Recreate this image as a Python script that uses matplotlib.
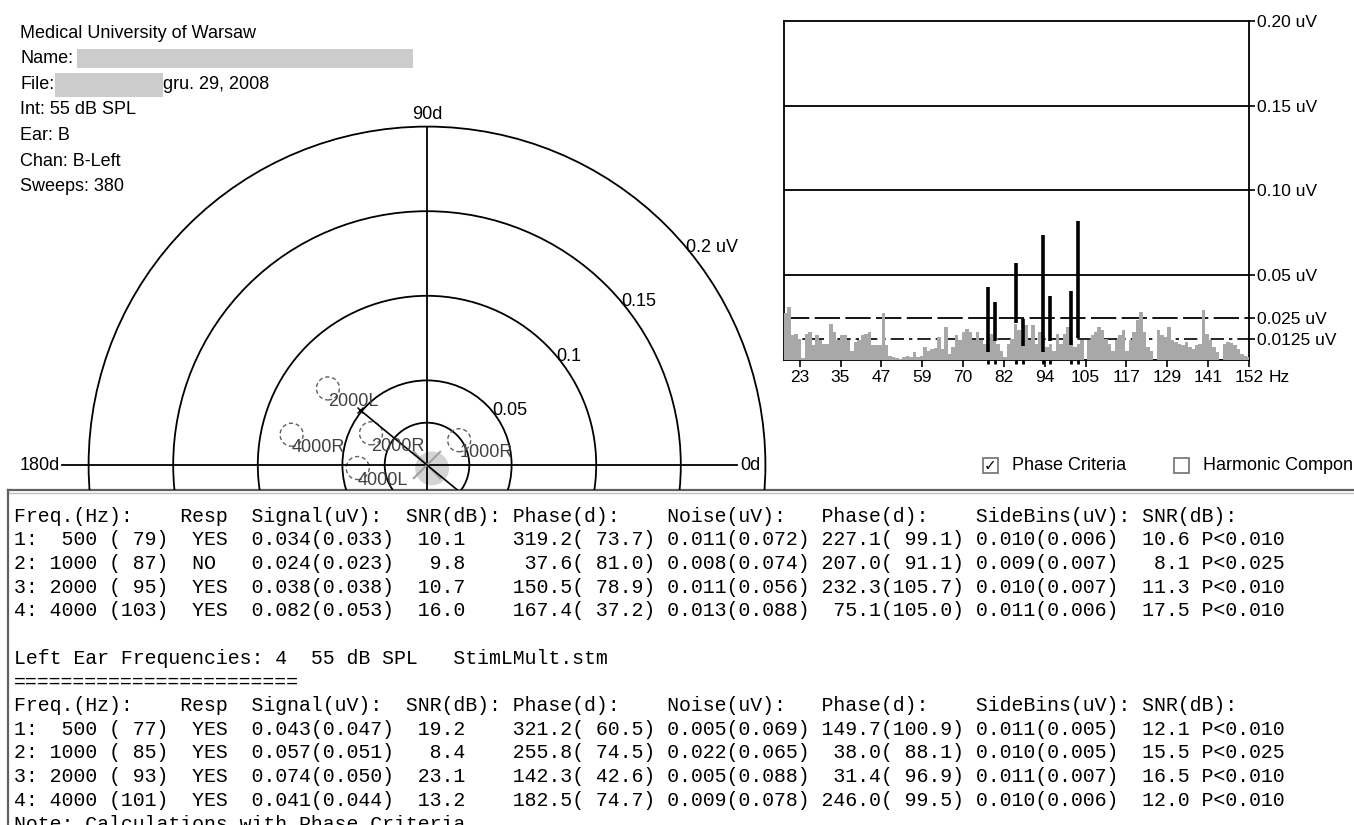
import matplotlib
matplotlib.use("Agg")
import matplotlib.pyplot as plt
from matplotlib.patches import Circle, Rectangle
import numpy as np

W, H = 1354, 825

# ---- header block ----
info_lines = ["Medical University of Warsaw", "Name:", "File:", "Int: 55 dB SPL",
              "Ear: B", "Chan: B-Left", "Sweeps: 380"]
file_date = "gru. 29, 2008"

# ---- polar plot ----
ring_values = [0.05, 0.1, 0.15, 0.2]
ring_labels = ["0.05", "0.1", "0.15", "0.2 uV"]
inner_ring = 0.025
axis_labels = ["0d", "90d", "180d"]
diam_phase = 140.6
diam_amp = 0.051

# ---- response table data ----
carriers = [500, 1000, 2000, 4000]

r_mod = [79, 87, 95, 103]
r_resp = ["YES", "NO", "YES", "YES"]
r_sig = [0.034, 0.024, 0.038, 0.082]
r_sig_b = [0.033, 0.023, 0.038, 0.053]
r_snr = [10.1, 9.8, 10.7, 16.0]
r_ph = [319.2, 37.6, 150.5, 167.4]
r_ph_b = [73.7, 81.0, 78.9, 37.2]
r_noise = [0.011, 0.008, 0.011, 0.013]
r_noise_b = [0.072, 0.074, 0.056, 0.088]
r_nph = [227.1, 207.0, 232.3, 75.1]
r_nph_b = [99.1, 91.1, 105.7, 105.0]
r_side = [0.010, 0.009, 0.010, 0.011]
r_side_b = [0.006, 0.007, 0.007, 0.006]
r_snr2 = [10.6, 8.1, 11.3, 17.5]
r_p = ["P<0.010", "P<0.025", "P<0.010", "P<0.010"]

l_mod = [77, 85, 93, 101]
l_resp = ["YES", "YES", "YES", "YES"]
l_sig = [0.043, 0.057, 0.074, 0.041]
l_sig_b = [0.047, 0.051, 0.050, 0.044]
l_snr = [19.2, 8.4, 23.1, 13.2]
l_ph = [321.2, 255.8, 142.3, 182.5]
l_ph_b = [60.5, 74.5, 42.6, 74.7]
l_noise = [0.005, 0.022, 0.005, 0.009]
l_noise_b = [0.069, 0.065, 0.088, 0.078]
l_nph = [149.7, 38.0, 31.4, 246.0]
l_nph_b = [100.9, 88.1, 96.9, 99.5]
l_side = [0.011, 0.010, 0.011, 0.010]
l_side_b = [0.005, 0.005, 0.007, 0.006]
l_snr2 = [12.1, 15.5, 16.5, 12.0]
l_p = ["P<0.010", "P<0.025", "P<0.010", "P<0.010"]

table_header = "Freq.(Hz):    Resp  Signal(uV):  SNR(dB): Phase(d):    Noise(uV):   Phase(d):    SideBins(uV): SNR(dB):"
left_title = "Left Ear Frequencies: 4  55 dB SPL   StimLMult.stm"
note_line = "Note: Calculations with Phase Criteria"

# ---- spectrum ----
spec_freqs = list(range(19, 153))
spec_amp = [0.0275, 0.0315, 0.0146, 0.0155, 0.0126, 0.001, 0.0155, 0.0165, 0.0086, 0.0146,
            0.0116, 0.0096, 0.0096, 0.0215, 0.0165, 0.0116, 0.0146, 0.0146, 0.0116, 0.0056,
            0.0106, 0.0116, 0.0146, 0.0155, 0.0165, 0.0086, 0.0086, 0.0086, 0.0275, 0.0086,
            0.0026, 0.0016, 0.001, 0.0006, 0.0016, 0.0026, 0.0016, 0.0046, 0.0016, 0.0026,
            0.0076, 0.0056, 0.0066, 0.0072, 0.0136, 0.0066, 0.0195, 0.0036, 0.0076, 0.0146,
            0.0116, 0.0165, 0.0185, 0.0165, 0.0116, 0.0165, 0.0116, 0.0096, 0.0096, 0.0155,
            0.0116, 0.0096, 0.0056, 0.0016, 0.0096, 0.0126, 0.0215, 0.0175, 0.0126, 0.0205,
            0.0116, 0.0205, 0.0096, 0.0165, 0.0056, 0.0076, 0.0096, 0.0056, 0.0155, 0.0096,
            0.0155, 0.0195, 0.0116, 0.0076, 0.0096, 0.0116, 0.0, 0.0116, 0.0146, 0.0165,
            0.0195, 0.0175, 0.0126, 0.0096, 0.0056, 0.0116, 0.0146, 0.0175, 0.0056, 0.0116,
            0.0165, 0.0235, 0.0285, 0.0165, 0.0076, 0.0056, 0.0, 0.0175, 0.0146, 0.0136,
            0.0195, 0.0116, 0.0106, 0.0096, 0.0086, 0.0106, 0.0076, 0.0066, 0.0086, 0.0096,
            0.0295, 0.0155, 0.0116, 0.0076, 0.0046, 0.0, 0.0096, 0.0106, 0.01, 0.0086,
            0.0066, 0.0036, 0.0026, 0.0016]
spec_levels = [0.2, 0.15, 0.10, 0.05, 0.025, 0.0125]
spec_level_labels = ["0.20 uV", "0.15 uV", "0.10 uV", "0.05 uV", "0.025 uV", "0.0125 uV"]
spec_tick_labels = ["23", "35", "47", "59", "70", "82", "94", "105", "117", "129", "141", "152"]

checkbox_labels = ["Phase Criteria", "Harmonic Compon"]
checkbox_state = [True, False]

SANS = "Liberation Sans"
MONO = "Liberation Mono"

fig = plt.figure(figsize=(W / 100, H / 100), dpi=100)
fig.patch.set_facecolor("white")

bg = fig.add_axes([0, 0, 1, 1])
bg.set_xlim(0, W)
bg.set_ylim(H, 0)
bg.axis("off")

# header text + redaction bars
for i, line in enumerate(info_lines):
    bg.text(20, 33 + i * 25.6, line, family=SANS, fontsize=13, va="center", ha="left")
bg.add_patch(Rectangle((77, 49), 336, 19, color="#cccccc", lw=0))
bg.add_patch(Rectangle((55, 73), 108, 24, color="#cccccc", lw=0))
bg.text(163, 33 + 2 * 25.6, file_date, family=SANS, fontsize=13, va="center", ha="left")

# checkboxes
box_x = [983, 1174]
for bx, lab, st in zip(box_x, checkbox_labels, checkbox_state):
    bg.add_patch(Rectangle((bx, 458), 15, 15, facecolor="white", edgecolor="#707070", lw=1.2))
    if st:
        bg.text(bx + 7.5, 466, "\u2713", family="DejaVu Sans", fontsize=11, fontweight="bold",
                ha="center", va="center")
    bg.text(bx + 29, 466, lab, family=SANS, fontsize=13, va="center", ha="left")

# table frame
bg.plot([8, W], [490, 490], color="#606060", lw=1.6)
bg.plot([8, W], [492.5, 492.5], color="#c0c0c0", lw=1.0)
bg.plot([8, 8], [490, H], color="#606060", lw=1.6)


def fmt_rows(mod, resp, sig, sigb, snr, ph, phb, noise, noiseb, nph, nphb, side, sideb, snr2, p):
    rows = []
    for i in range(4):
        rows.append(f"{i + 1}: {carriers[i]:4d} ({mod[i]:3d})  {resp[i]:<3}  "
                    f"{sig[i]:.3f}({sigb[i]:.3f}){snr[i]:6.1f}    "
                    f"{ph[i]:5.1f}({phb[i]:5.1f}) {noise[i]:.3f}({noiseb[i]:.3f}) "
                    f"{nph[i]:5.1f}({nphb[i]:5.1f}) {side[i]:.3f}({sideb[i]:.3f}){snr2[i]:6.1f} {p[i]}")
    return rows


lines = [table_header]
lines += fmt_rows(r_mod, r_resp, r_sig, r_sig_b, r_snr, r_ph, r_ph_b, r_noise, r_noise_b,
                  r_nph, r_nph_b, r_side, r_side_b, r_snr2, r_p)
lines += ["", left_title, "=" * 24, table_header]
lines += fmt_rows(l_mod, l_resp, l_sig, l_sig_b, l_snr, l_ph, l_ph_b, l_noise, l_noise_b,
                  l_nph, l_nph_b, l_side, l_side_b, l_snr2, l_p)
lines += [note_line]
for i, line in enumerate(lines):
    bg.text(14, 516 + i * 23.7, line, family=MONO, fontsize=14.28, va="center", ha="left")

# ---- polar plot ----
PX = 1692.0   # pixels per uV
cx, cy = 427, 465
pax = fig.add_axes([0, 1 - 490 / H, 780 / W, 390 / H])
pax.set_xlim(-cx / PX, (780 - cx) / PX)
ybot = (cy - 490) / PX
pax.set_ylim(ybot, (cy - 100) / PX)
pax.axis("off")
pax.patch.set_alpha(0)

for rv in ring_values + [inner_ring]:
    pax.add_patch(Circle((0, 0), rv, fill=False, ec="black", lw=1.3))
pax.plot([-0.216, 0.183], [0, 0], color="black", lw=1.3)
pax.plot([0, 0], [-0.05, 0.2], color="black", lw=1.3)
pax.text(0, 0.2 + 0.002, axis_labels[1], family=SANS, fontsize=13, ha="center", va="bottom")
pax.text(-0.217, 0, axis_labels[2], family=SANS, fontsize=13, ha="right", va="center")
pax.text(0.185, 0, axis_labels[0], family=SANS, fontsize=13, ha="left", va="center")
for rv, lab in zip(ring_values, ring_labels):
    t = np.deg2rad(40)
    pax.text(rv * np.cos(t), rv * np.sin(t), lab, family=SANS, fontsize=13, ha="left", va="center")

# noise blob at origin
pax.add_patch(Circle((0.003, -0.002), 0.010, color="#d4d4d4", lw=0))
for a in (45, 135):
    t = np.deg2rad(a)
    pax.plot([-0.011 * np.cos(t), 0.011 * np.cos(t)], [-0.011 * np.sin(t), 0.011 * np.sin(t)],
             color="#a0a0a0", lw=1.5)

# phase diameter line
t = np.deg2rad(diam_phase)
pax.plot([diam_amp * np.cos(t), -0.05 * np.cos(t)], [diam_amp * np.sin(t), -0.05 * np.sin(t)],
         color="black", lw=1.2)
pax.plot(diam_amp * np.cos(t), diam_amp * np.sin(t), marker="x", color="black", ms=5)

# response tips (labels only where they are not hidden under the table)
for ear, amps, phs in (("R", r_sig, r_ph), ("L", l_sig, l_ph)):
    for f, a, p in zip(carriers, amps, phs):
        t = np.deg2rad(p)
        x, y = a * np.cos(t), a * np.sin(t)
        pax.add_patch(Circle((x, y), 0.0068, fill=False, ec="#606060", lw=1.0, ls=(0, (3, 2))))
        if y - 0.0025 > ybot + 0.004:
            pax.text(x, y - 0.0025, f"{f}{ear}", family=SANS, fontsize=13, color="#404040",
                     ha="left", va="top")

# ---- spectrum ----
sax = fig.add_axes([784 / W, 1 - 360 / H, 465 / W, 339 / H])
sax.set_xlim(18.5, 152)
sax.set_ylim(0, 0.2)
sax.bar(spec_freqs, spec_amp, width=1.0, color="#a8a8a8", lw=0, zorder=3)
for lv in spec_levels[1:4]:
    sax.axhline(lv, color="black", lw=1.3, zorder=2)
sax.axhline(spec_levels[4], color="black", lw=1.3, ls=(0, (14, 3)), zorder=2)
sax.axhline(spec_levels[5], color="black", lw=1.2, ls=(0, (8, 3, 2, 3)), zorder=2)
sig_f = r_mod + l_mod
sig_a = r_sig + l_sig
sig_n = r_noise + l_noise
sax.vlines(sig_f, sig_n, sig_a, color="black", lw=2.6, zorder=4)
for sp in sax.spines.values():
    sp.set_color("black")
    sp.set_linewidth(1.3)
sax.yaxis.tick_right()
sax.set_yticks(spec_levels)
sax.set_yticklabels(spec_level_labels, family=SANS, fontsize=12.5)
sax.set_xticks(np.linspace(23, 152, len(spec_tick_labels)))
sax.set_xticklabels(spec_tick_labels, family=SANS, fontsize=12.5)
sax.set_xticks(sig_f, minor=True)
sax.tick_params(axis="y", length=4, width=1.2, pad=2)
sax.tick_params(axis="x", which="major", length=5, width=1.2, pad=2)
sax.tick_params(axis="x", which="minor", length=3, width=2)
sax.annotate("Hz", xy=(152, 0), xycoords="data", xytext=(14, -7), textcoords="offset points",
             family=SANS, fontsize=12.5, ha="left", va="top", annotation_clip=False)

fig.savefig("out.png", dpi=100, facecolor="white")
